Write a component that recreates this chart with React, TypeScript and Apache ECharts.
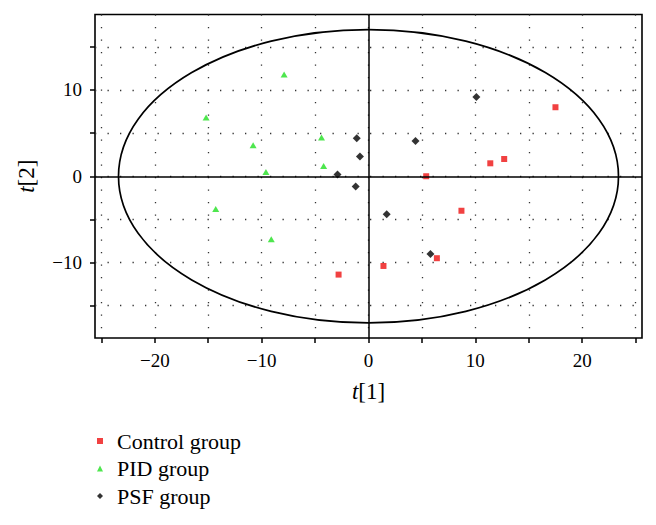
import React, { useEffect, useRef } from "react";
import * as echarts from "echarts";

const seriesNames = ["Control group", "PID group", "PSF group"];
const controlData: number[][] = [
  [17.5, 8.0], [11.4, 1.5], [12.7, 2.0], [5.4, 0.0],
  [8.7, -4.0], [1.4, -10.4], [6.4, -9.5], [-2.8, -11.4],
];
const pidData: number[][] = [
  [-7.9, 11.8], [-15.2, 6.8], [-10.8, 3.6], [-4.4, 4.5],
  [-9.6, 0.5], [-4.2, 1.2], [-14.3, -3.8], [-9.1, -7.3],
];
const psfData: number[][] = [
  [10.1, 9.2], [4.4, 4.1], [-1.1, 4.4], [-0.8, 2.3],
  [-2.9, 0.2], [-1.2, -1.2], [1.7, -4.4], [5.8, -9.0],
];
// ellipse: center x, center y, semi-axis x, semi-axis y
const ellipseData: number[][] = [[0, 0, 23.4, 17.0]];
const xTicks = [-25, -20, -15, -10, -5, 0, 5, 10, 15, 20, 25];
const xLabels = [-20, -10, 0, 10, 20];
const yTicks = [-15, -10, -5, 0, 5, 10, 15];
const yLabels = [-10, 0, 10];

const FONT = "Liberation Serif, serif";

const fmt = (v: number) => (v < 0 ? "\u2212" + Math.abs(v) : String(v));

export default function App() {
  const ref = useRef<HTMLDivElement>(null);
  useEffect(() => {
    document.body.style.margin = "0";
    const chart = echarts.init(ref.current!, null, { renderer: "svg" });
    const dotted = { color: "#333", width: 1.3, type: [1.3, 11.2] as any };
    const nameStyle = {
      fontFamily: FONT, fontSize: 23, color: "#000",
      rich: {
        i: { fontFamily: FONT, fontSize: 23, fontStyle: "italic", color: "#000" },
        n: { fontFamily: FONT, fontSize: 23, color: "#000" },
      },
    };
    chart.setOption({
      animation: false,
      backgroundColor: "#fff",
      textStyle: { fontFamily: FONT },
      grid: {
        left: 95, right: 14, top: 14.5, bottom: 187,
        show: true, borderColor: "#000", borderWidth: 1.6, backgroundColor: "transparent",
      },
      legend: {
        orient: "vertical", left: 92, top: 425, itemWidth: 6, itemHeight: 6,
        itemGap: 5.5,
        textStyle: { fontFamily: FONT, fontSize: 22, color: "#000", lineHeight: 22, padding: [0, 0, 0, 9] },
        data: [
          { name: seriesNames[0], icon: "rect" },
          { name: seriesNames[1], icon: "triangle" },
          { name: seriesNames[2], icon: "diamond" },
        ],
      },
      xAxis: {
        type: "value", min: -25.6, max: 25.6, splitNumber: 10,
        axisLine: { show: false, onZero: false },
        axisTick: { show: true, inside: false, length: 5, lineStyle: { color: "#000", width: 1.5 }, customValues: xTicks },
        axisLabel: {
          customValues: xLabels, margin: 13, fontFamily: FONT, fontSize: 19, color: "#000",
          formatter: (v: number) => (Math.abs(v % 10) < 1e-9 && Math.abs(v) <= 20 ? fmt(v) : ""),
        },
        splitLine: { show: true, lineStyle: dotted },
        name: "{i|t}{n|[1]}", nameLocation: "middle", nameGap: 42,
        nameTextStyle: nameStyle,
      },
      yAxis: {
        type: "value", min: -18.75, max: 18.75, splitNumber: 8,
        axisLine: { show: false, onZero: false },
        axisTick: { show: true, inside: false, length: 5, lineStyle: { color: "#000", width: 1.5 }, customValues: yTicks },
        axisLabel: {
          customValues: yLabels, margin: 13, fontFamily: FONT, fontSize: 19, color: "#000",
          formatter: (v: number) => (Math.abs(v % 10) < 1e-9 && Math.abs(v) <= 10 ? fmt(v) : ""),
        },
        splitLine: { show: true, lineStyle: dotted },
        name: "{i|t}{n|[2]}", nameLocation: "middle", nameGap: 57,
        nameTextStyle: nameStyle,
      },
      series: [
        {
          type: "custom",
          silent: true,
          data: ellipseData,
          renderItem: (params: any, api: any) => {
            const c = api.coord([api.value(0), api.value(1)]);
            const s = api.size([api.value(2), api.value(3)]);
            return {
              type: "ellipse",
              shape: { cx: c[0], cy: c[1], rx: s[0], ry: s[1] },
              style: { fill: "none", stroke: "#000", lineWidth: 1.7 },
            };
          },
          markLine: {
            silent: true, symbol: "none", label: { show: false },
            lineStyle: { color: "#000", width: 1.5, type: "solid" },
            data: [{ xAxis: 0 }, { yAxis: 0 }],
          },
          z: 1,
        },
        {
          name: seriesNames[0], type: "scatter", symbol: "rect", symbolSize: 6,
          itemStyle: { color: "#ee1111" }, data: controlData, z: 3,
        },
        {
          name: seriesNames[1], type: "scatter", symbol: "triangle", symbolSize: [7, 6],
          itemStyle: { color: "#22e022" }, data: pidData, z: 3,
        },
        {
          name: seriesNames[2], type: "scatter", symbol: "diamond", symbolSize: 8,
          itemStyle: { color: "#000" }, data: psfData, z: 3,
        },
      ],
    });
    return () => chart.dispose();
  }, []);
  return <div ref={ref} style={{ width: 656, height: 525 }} />;
}
